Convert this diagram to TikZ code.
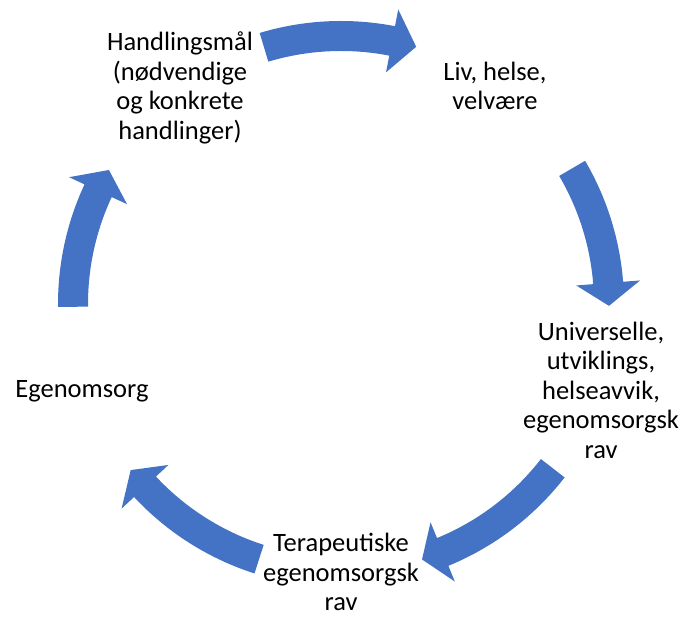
\documentclass[tikz,border=0pt]{standalone}
\usepackage{fontspec}
\setmainfont{Carlito}
\definecolor{officeblue}{RGB}{68,114,196}
\begin{document}
\begin{tikzpicture}[x=1pt,y=1pt,
  cyclearrow/.style={fill=officeblue},
  lbl/.style={align=center,inner sep=0pt,font=\fontsize{26.5}{29.5}\selectfont}]
\useasboundingbox (0,0) rectangle (683,617);
\begin{scope}[shift={(341,313)}]
\foreach \a/\b/\t in {106.7/79/73.7, 30.4/4.5/-0.4, -37.8/-67.7/-72.4, -107.8/-137/-141.7, 180.6/155/150}{
  \fill[cyclearrow] (\a:283pt) arc[start angle=\a, end angle=\b, radius=283pt]
    -- (\b:300pt) -- (\t:268pt) -- (\b:236pt) -- (\b:253pt)
    arc[start angle=\b, end angle=\a, radius=253pt] -- cycle;
}
\end{scope}
\node[lbl] (hand) at (180,529) {Handlingsmål\\(nødvendige\\og konkrete\\handlinger)};
\node[lbl] (liv) at (495,531) {Liv, helse,\\velvære};
\node[lbl] (univ) at (601,227) {Universelle,\\utviklings,\\helseavvik,\\egenomsorgsk\\rav};
\node[lbl] (tera) at (341,45) {Terapeutiske\\egenomsorgsk\\rav};
\node[lbl] (ego) at (82,226) {Egenomsorg};
\end{tikzpicture}
\end{document}
